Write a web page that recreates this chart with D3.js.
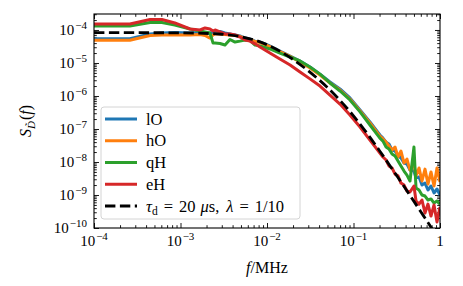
<!DOCTYPE html>
<html>
<head>
<meta charset="utf-8">
<script src="https://cdn.jsdelivr.net/npm/d3@7"></script>
<style>
body { margin: 0; background: #fff; }
text { font-family: "Liberation Serif", "DejaVu Serif", serif; fill: #000; }
</style>
</head>
<body>
<script>
// chart size and plot box
var w = 463, h = 286;
var x0 = 94, x1 = 440, y0 = 14, y1 = 228;

// frequencies in MHz (shared by the four measured spectra)
var freq = [1.0e-4, 2.6e-4, 4.45e-4, 6.1e-4, 8.6e-4, 1.29e-3, 1.68e-3, 1.92e-3, 2.19e-3, 2.38e-3,
    2.51e-3, 2.86e-3, 3.27e-3, 3.73e-3, 4.27e-3, 4.87e-3, 5.57e-3, 6.36e-3, 7.27e-3, 8.3e-3,
    1.08e-2, 1.41e-2, 1.85e-2, 2.41e-2, 3.14e-2, 4.1e-2, 5.35e-2, 6.98e-2, 9.1e-2, 0.119,
    0.155, 0.202, 0.219, 0.238, 0.257, 0.279, 0.302, 0.327, 0.354, 0.384,
    0.415, 0.450, 0.500, 0.528, 0.572, 0.619, 0.671, 0.726, 0.787, 0.853,
    0.923, 1.0];

var lO = [5.45e-5, 5.45e-5, 7.6e-5, 8.1e-5, 8.4e-5, 8.1e-5, 8.4e-5, 8.1e-5, 8.1e-5, 8.4e-5,
    8.7e-5, 9.0e-5, 8.1e-5, 7.6e-5, 7.05e-5, 6.6e-5, 5.7e-5, 5.3e-5, 4.6e-5, 4.3e-5,
    3.27e-5, 2.3e-5, 1.63e-5, 1.15e-5, 7.6e-6, 4.6e-6, 2.66e-6, 1.63e-6, 8.7e-7, 3.76e-7,
    1.63e-7, 6.6e-8, 5.3e-8, 4.0e-8, 3.5e-8, 2.3e-8, 2.15e-8, 1.52e-8, 1.32e-8, 9.3e-9,
    8.7e-9, 5.7e-9, 5.3e-9, 3.3e-9, 3.5e-9, 2.0e-9, 2.3e-9, 1.42e-9, 1.87e-9, 1.15e-9,
    1.52e-9, 1.0e-9];

var hO = [4.9e-5, 4.9e-5, 6.8e-5, 7.05e-5, 7.05e-5, 7.05e-5, 7.3e-5, 6.8e-5, 5.7e-5, 7.05e-5,
    7.6e-5, 7.6e-5, 7.3e-5, 7.05e-5, 6.8e-5, 6.4e-5, 5.5e-5, 5.15e-5, 4.45e-5, 4.15e-5,
    3.15e-5, 2.23e-5, 1.58e-5, 1.07e-5, 7.05e-6, 4.3e-6, 2.48e-6, 1.52e-6, 8.1e-7, 3.5e-7,
    1.52e-7, 6.1e-8, 5.0e-8, 4.0e-8, 3.05e-8, 2.3e-8, 2.85e-8, 1.42e-8, 2.15e-8, 9.3e-9,
    1.23e-8, 5.7e-9, 8.7e-9, 3.8e-9, 6.6e-9, 2.66e-9, 6.1e-9, 2.15e-9, 5.0e-9, 1.87e-9,
    6.6e-9, 2.48e-9];

var qH = [1.32e-4, 1.32e-4, 1.69e-4, 1.69e-4, 1.42e-4, 1.07e-4, 9.3e-5, 8.7e-5, 8.1e-5, 4.0e-5,
    4.0e-5, 3.9e-5, 3.5e-5, 5.15e-5, 4.3e-5, 4.6e-5, 5.0e-5, 4.8e-5, 3.5e-5, 3.3e-5,
    2.66e-5, 2.0e-5, 1.52e-5, 1.15e-5, 7.6e-6, 4.6e-6, 2.48e-6, 1.42e-6, 7.6e-7, 3.3e-7,
    1.32e-7, 5.3e-8, 4.3e-8, 2.85e-8, 2.48e-8, 1.75e-8, 1.52e-8, 1.07e-8, 7.6e-9, 5.3e-9,
    4.0e-9, 2.66e-9, 2.85e-8, 1.63e-9, 1.42e-9, 1.0e-9, 9.3e-10, 7.05e-10, 7.6e-10, 5.7e-10,
    6.6e-10, 5.3e-10];

var eH = [1.52e-4, 1.52e-4, 2.08e-4, 2.08e-4, 1.63e-4, 1.07e-4, 1.0e-4, 1.15e-4, 1.07e-4, 9.3e-5,
    1.0e-4, 8.7e-5, 7.6e-5, 7.6e-5, 7.05e-5, 6.1e-5, 5.0e-5, 4.6e-5, 3.8e-5, 3.05e-5,
    2.0e-5, 1.32e-5, 8.7e-6, 5.3e-6, 3.3e-6, 2.0e-6, 1.07e-6, 5.7e-7, 2.66e-7, 1.15e-7,
    4.6e-8, 1.87e-8, 1.42e-8, 1.15e-8, 7.6e-9, 6.6e-9, 4.3e-9, 3.8e-9, 2.3e-9, 2.0e-9,
    1.32e-9, 1.23e-9, 1.87e-9, 6.6e-10, 5.3e-10, 7.05e-10, 2.85e-10, 5.3e-10, 2.3e-10, 5.0e-10,
    1.52e-10, 4.3e-10];

// fitted spectrum (dashed)
var fitFreq = [1e-4, 1e-3, 3e-3, 1e-2, 2e-2, 3e-2, 5e-2, 0.07, 0.1, 0.15, 0.2, 0.3, 0.4, 0.5, 0.6, 0.7, 0.8, 1.0];
var fitVals = [8.3e-5, 8.2e-5, 7.43e-5, 3.58e-5, 1.28e-5, 5.8e-6, 1.8e-6, 7.3e-7, 2.5e-7, 6.3e-8,
    2.2e-8, 4.7e-9, 1.54e-9, 6.4e-10, 3.1e-10, 1.69e-10, 9.9e-11, 4.1e-11];

var seriesNames = ["lO", "hO", "qH", "eH"];
var seriesVals = [lO, hO, qH, eH];
var seriesColors = ["#1f77b4", "#ff7f0e", "#2ca02c", "#d62728"];

// ticks
var xTicks = [1e-4, 1e-3, 1e-2, 1e-1, 1];
var xTickExp = ["\u22124", "\u22123", "\u22122", "\u22121", ""];
var yTicks = [1e-10, 1e-9, 1e-8, 1e-7, 1e-6, 1e-5, 1e-4];
var yTickExp = ["\u221210", "\u22129", "\u22128", "\u22127", "\u22126", "\u22125", "\u22124"];

window.onload = function() {
    var svg = d3.select("body").append("svg")
        .attr("width", w).attr("height", h)
        .style("background", "#fff");

    var x = d3.scaleLog().domain([1e-4, 1]).range([x0, x1]);
    var y = d3.scaleLog().domain([1e-10, 3.05e-4]).range([y1, y0]);

    svg.append("defs").append("clipPath").attr("id", "plotclip")
        .append("rect")
        .attr("x", x0).attr("y", y0)
        .attr("width", x1 - x0).attr("height", y1 - y0);

    var isMajor = function(t) {
        var l = Math.log10(t);
        return Math.abs(l - Math.round(l)) < 1e-9;
    };
    var xMinor = x.ticks().filter(function(t) { return !isMajor(t); });
    var yMinor = y.ticks().filter(function(t) { return !isMajor(t); });

    // inward ticks on all four sides
    function ticks(axisFn, scale, values, size, tx, ty) {
        svg.append("g")
            .attr("transform", "translate(" + tx + "," + ty + ")")
            .call(axisFn(scale).tickValues(values).tickSize(size).tickFormat(""))
            .call(function(g) { g.select(".domain").remove(); })
            .selectAll("line").attr("stroke", "#000").attr("stroke-width", 0.9);
    }
    ticks(d3.axisBottom, x, xTicks, -5, 0, y1);
    ticks(d3.axisBottom, x, xMinor, -2.8, 0, y1);
    ticks(d3.axisTop, x, xTicks, -5, 0, y0);
    ticks(d3.axisTop, x, xMinor, -2.8, 0, y0);
    ticks(d3.axisLeft, y, yTicks, -5, x0, 0);
    ticks(d3.axisLeft, y, yMinor, -2.8, x0, 0);
    ticks(d3.axisRight, y, yTicks, -5, x1, 0);
    ticks(d3.axisRight, y, yMinor, -2.8, x1, 0);

    // data
    var plot = svg.append("g").attr("clip-path", "url(#plotclip)");
    var line = d3.line()
        .x(function(d) { return x(d[0]); })
        .y(function(d) { return y(d[1]); });

    seriesVals.forEach(function(vals, i) {
        plot.append("path")
            .datum(freq.map(function(f, j) { return [f, vals[j]]; }))
            .attr("d", line)
            .attr("fill", "none")
            .attr("stroke", seriesColors[i])
            .attr("stroke-width", 3)
            .attr("stroke-linejoin", "round");
    });

    plot.append("path")
        .datum(fitFreq.map(function(f, j) { return [f, fitVals[j]]; }))
        .attr("d", line.curve(d3.curveMonotoneX))
        .attr("fill", "none")
        .attr("stroke", "#000")
        .attr("stroke-width", 2.8)
        .attr("stroke-dasharray", "10.4,4.5");

    // frame
    svg.append("rect")
        .attr("x", x0).attr("y", y0)
        .attr("width", x1 - x0).attr("height", y1 - y0)
        .attr("fill", "none").attr("stroke", "#000").attr("stroke-width", 1.1);

    // tick labels
    svg.append("g").selectAll("text").data(xTicks).join("text")
        .attr("x", function(d) { return x(d); })
        .attr("y", y1 + 18)
        .attr("text-anchor", "middle")
        .attr("font-size", 15)
        .each(function(d, i) {
            var t = d3.select(this);
            if (xTickExp[i] === "") { t.text("1"); return; }
            t.append("tspan").text("10");
            t.append("tspan").attr("dx", 1).attr("dy", -6).attr("font-size", 11).text(xTickExp[i]);
        });

    svg.append("g").selectAll("text").data(yTicks).join("text")
        .attr("x", x0 - 7)
        .attr("y", function(d) { return y(d) + 5; })
        .attr("text-anchor", "end")
        .attr("font-size", 15)
        .each(function(d, i) {
            var t = d3.select(this);
            t.append("tspan").text("10");
            t.append("tspan").attr("dx", 1).attr("dy", -6).attr("font-size", 11).text(yTickExp[i]);
        });

    // axis labels
    var xl = svg.append("text")
        .attr("x", (x0 + x1) / 2).attr("y", 273)
        .attr("text-anchor", "middle").attr("font-size", 16);
    xl.append("tspan").attr("font-style", "italic").text("f");
    xl.append("tspan").text("/MHz");

    var yl = svg.append("text")
        .attr("transform", "translate(31," + ((y0 + y1) / 2) + ") rotate(-90)")
        .attr("text-anchor", "middle").attr("font-size", 16);
    yl.append("tspan").attr("font-style", "italic").text("S");
    yl.append("tspan").attr("font-style", "italic").attr("font-size", 11).attr("dy", 4).text("D\u0303");
    yl.append("tspan").attr("dy", -4).attr("dx", 1).text("(");
    yl.append("tspan").attr("font-style", "italic").text("f");
    yl.append("tspan").text(")");

    // legend
    var lg = svg.append("g");
    lg.append("rect")
        .attr("x", 101).attr("y", 107).attr("width", 199).attr("height", 112)
        .attr("rx", 3).attr("fill", "#fff").attr("fill-opacity", 0.8)
        .attr("stroke", "#d4d4d4").attr("stroke-width", 1);

    var rowY = function(i) { return 119 + i * 21.75; };
    seriesNames.forEach(function(name, i) {
        lg.append("line")
            .attr("x1", 105).attr("x2", 137)
            .attr("y1", rowY(i)).attr("y2", rowY(i))
            .attr("stroke", seriesColors[i]).attr("stroke-width", 3);
        lg.append("text")
            .attr("x", 146).attr("y", rowY(i) + 5.5)
            .attr("font-size", 16.5).text(name);
    });
    lg.append("line")
        .attr("x1", 105).attr("x2", 137)
        .attr("y1", rowY(4)).attr("y2", rowY(4))
        .attr("stroke", "#000").attr("stroke-width", 2.8)
        .attr("stroke-dasharray", "10.4,4.5");
    var ft = lg.append("text").attr("x", 146).attr("y", rowY(4) + 5.5).attr("font-size", 16.5);
    ft.append("tspan").attr("font-style", "italic").text("\u03c4");
    ft.append("tspan").attr("font-size", 11.5).attr("dy", 3).text("d");
    ft.append("tspan").attr("dy", -3).attr("dx", 6).text("=");
    ft.append("tspan").attr("dx", 6).text("20");
    ft.append("tspan").attr("dx", 5).attr("font-style", "italic").text("\u03bc");
    ft.append("tspan").text("s,");
    ft.append("tspan").attr("dx", 7).attr("font-style", "italic").text("\u03bb");
    ft.append("tspan").attr("dx", 6).text("=");
    ft.append("tspan").attr("dx", 6).text("1/10");
};
</script>
</body>
</html>
